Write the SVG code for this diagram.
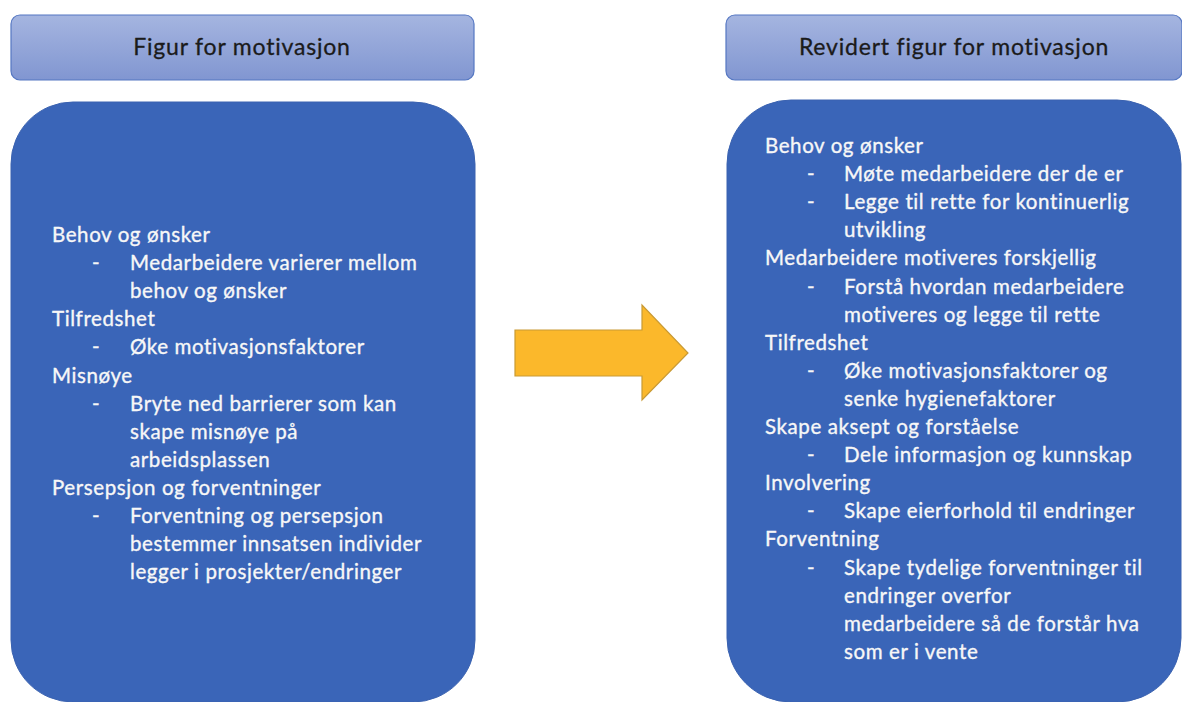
<svg xmlns="http://www.w3.org/2000/svg" width="1182" height="702" viewBox="0 0 1182 702">
<defs>
<linearGradient id="hdr" x1="0" y1="0" x2="0" y2="1">
<stop offset="0" stop-color="#a5b5e0"/>
<stop offset="1" stop-color="#8196d1"/>
</linearGradient>
<style>
.hdr{fill:url(#hdr);stroke:#5577c2;stroke-width:1.2}
.box{fill:#3a65b8;stroke:#3a62b0;stroke-width:1}
.ht{font-family:Lato,"Liberation Sans",sans-serif;font-size:23px;letter-spacing:0.8px;fill:#1b1b1b;stroke:#1b1b1b;stroke-width:0.3;text-anchor:middle}
.bt{font-family:Lato,"Liberation Sans",sans-serif;font-size:20.5px;letter-spacing:0.6px;fill:#f7f7f7;stroke:#f7f7f7;stroke-width:0.35}
.arrow{fill:#fbb82b;stroke:#c99a34;stroke-width:1.2}
</style>
</defs>
<rect width="1182" height="702" fill="#ffffff"/>
<g id="header-left">
<rect class="hdr" x="11" y="15" width="463" height="65" rx="9"/>
<text class="ht" x="242" y="55">Figur for motivasjon</text>
</g>
<g id="header-right">
<rect class="hdr" x="726" y="15" width="456" height="65" rx="9"/>
<text class="ht" x="954" y="55">Revidert figur for motivasjon</text>
</g>
<g id="box-left">
<rect class="box" x="11" y="102" width="464" height="600" rx="62"/>
<text class="bt">
<tspan x="52" y="242">Behov og ønsker</tspan>
<tspan x="92" y="270.1">-</tspan><tspan x="130" y="270.1">Medarbeidere varierer mellom</tspan>
<tspan x="130" y="298.2">behov og ønsker</tspan>
<tspan x="52" y="326.3">Tilfredshet</tspan>
<tspan x="92" y="354.4">-</tspan><tspan x="130" y="354.4">Øke motivasjonsfaktorer</tspan>
<tspan x="52" y="382.5">Misnøye</tspan>
<tspan x="92" y="410.6">-</tspan><tspan x="130" y="410.6">Bryte ned barrierer som kan</tspan>
<tspan x="130" y="438.7">skape misnøye på</tspan>
<tspan x="130" y="466.8">arbeidsplassen</tspan>
<tspan x="52" y="494.9">Persepsjon og forventninger</tspan>
<tspan x="92" y="523">-</tspan><tspan x="130" y="523">Forventning og persepsjon</tspan>
<tspan x="130" y="551.1">bestemmer innsatsen individer</tspan>
<tspan x="130" y="579.2">legger i prosjekter/endringer</tspan>
</text>
</g>
<g id="box-right">
<rect class="box" x="727" y="100" width="454" height="602" rx="64"/>
<text class="bt">
<tspan x="765" y="153">Behov og ønsker</tspan>
<tspan x="807" y="181.1">-</tspan><tspan x="844" y="181.1">Møte medarbeidere der de er</tspan>
<tspan x="807" y="209.2">-</tspan><tspan x="844" y="209.2">Legge til rette for kontinuerlig</tspan>
<tspan x="844" y="237.3">utvikling</tspan>
<tspan x="765" y="265.4">Medarbeidere motiveres forskjellig</tspan>
<tspan x="807" y="293.5">-</tspan><tspan x="844" y="293.5">Forstå hvordan medarbeidere</tspan>
<tspan x="844" y="321.6">motiveres og legge til rette</tspan>
<tspan x="765" y="349.7">Tilfredshet</tspan>
<tspan x="807" y="377.8">-</tspan><tspan x="844" y="377.8">Øke motivasjonsfaktorer og</tspan>
<tspan x="844" y="405.9">senke hygienefaktorer</tspan>
<tspan x="765" y="434">Skape aksept og forståelse</tspan>
<tspan x="807" y="462.1">-</tspan><tspan x="844" y="462.1">Dele informasjon og kunnskap</tspan>
<tspan x="765" y="490.2">Involvering</tspan>
<tspan x="807" y="518.3">-</tspan><tspan x="844" y="518.3">Skape eierforhold til endringer</tspan>
<tspan x="765" y="546.4">Forventning</tspan>
<tspan x="807" y="574.5">-</tspan><tspan x="844" y="574.5">Skape tydelige forventninger til</tspan>
<tspan x="844" y="602.6">endringer overfor</tspan>
<tspan x="844" y="630.7">medarbeidere så de forstår hva</tspan>
<tspan x="844" y="658.8">som er i vente</tspan>
</text>
</g>
<g id="connectors">
<polygon id="arrow" class="arrow" points="515,330 642,330 642,305 688,353 642,400 642,376 515,376"/>
</g>
</svg>
